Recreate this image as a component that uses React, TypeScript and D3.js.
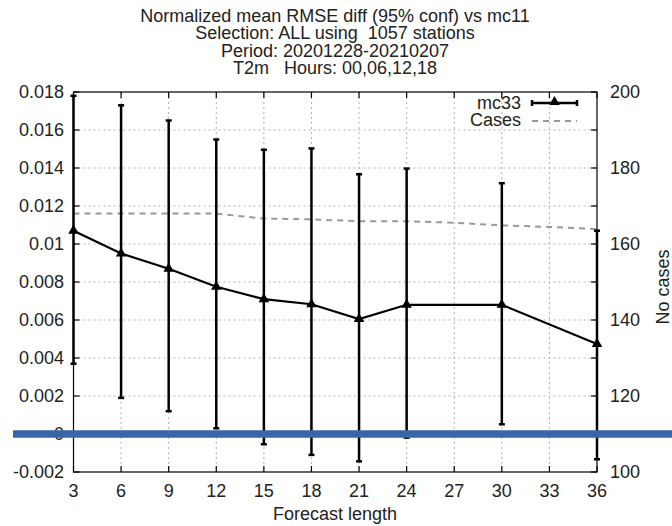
import React from "react";
import * as d3 from "d3";

const titleLines = [
  "Normalized mean RMSE diff (95% conf) vs mc11",
  "Selection: ALL using  1057 stations",
  "Period: 20201228-20210207",
  "T2m   Hours: 00,06,12,18",
];

const leadTimes = [3, 6, 9, 12, 15, 18, 21, 24, 30, 36];
const mc33Mean = [0.0107, 0.0095, 0.0087, 0.00775, 0.0071, 0.00683, 0.00605, 0.0068, 0.0068, 0.00474];
const mc33Lower = [0.0037, 0.0019, 0.0012, 0.0003, -0.00054, -0.0011, -0.00144, -0.00019, 0.00051, -0.00133];
const mc33Upper = [0.0178, 0.0173, 0.0165, 0.0155, 0.01496, 0.01503, 0.01367, 0.01397, 0.0132, 0.0107];

const caseLeads = [3, 6, 9, 12, 15, 18, 21, 24, 27, 30, 33, 36];
const cases = [168, 168, 168, 168, 166.7, 166.5, 166, 166, 165.6, 164.9, 164.5, 163.9];

const xTicks = [3, 6, 9, 12, 15, 18, 21, 24, 27, 30, 33, 36];
const yTicks = [-0.002, 0, 0.002, 0.004, 0.006, 0.008, 0.01, 0.012, 0.014, 0.016, 0.018];
const y2Ticks = [100, 120, 140, 160, 180, 200];

const W = 672;
const H = 526;
const L = 73.5;
const R = 597;
const T = 92;
const B = 472;

const FONT = "'Liberation Sans', Arial, sans-serif";
const TXT = "#222";
const FS = 18;

export default function App() {
  const x = d3.scaleLinear().domain([3, 36]).range([L, R]);
  const y = d3.scaleLinear().domain([-0.002, 0.018]).range([B, T]);
  const y2 = d3.scaleLinear().domain([100, 200]).range([B, T]);

  const meanLine = d3
    .line<number>()
    .x((_, i) => x(leadTimes[i]))
    .y((d) => y(d))(mc33Mean) as string;
  const casesLine = d3
    .line<number>()
    .x((_, i) => x(caseLeads[i]))
    .y((d) => y2(d))(cases) as string;
  const tri = d3.symbol().type(d3.symbolTriangle).size(48)() as string;

  const fmtY = (v: number) => (v === 0 ? "0" : String(+v.toFixed(3)));
  const cap = 3;
  const tick = 6;

  return (
    <svg
      width={W}
      height={H}
      style={{ position: "absolute", left: 0, top: 0, background: "#fff" }}
      fontFamily={FONT}
    >
      <rect x={0} y={0} width={W} height={H} fill="#fff" />
      {/* title */}
      {titleLines.map((t, i) => (
        <text key={t} x={335} y={22 + i * 17.3} textAnchor="middle" fontSize={FS} fill={TXT} style={{ whiteSpace: "pre" }}>
          {t}
        </text>
      ))}
      {/* grid */}
      {yTicks.filter((v) => v > -0.002 && v < 0.018).map((v) => (
        <line key={"gy" + v} x1={L} x2={R} y1={y(v)} y2={y(v)} stroke="#b0b0b0" strokeWidth={1} strokeDasharray="2,3" />
      ))}
      {xTicks.filter((v) => v > 3 && v < 36).map((v) => (
        <line key={"gx" + v} x1={x(v)} x2={x(v)} y1={T} y2={B} stroke="#b0b0b0" strokeWidth={1} strokeDasharray="2,3" />
      ))}
      {/* border */}
      <rect x={L} y={T} width={R - L} height={B - T} fill="none" stroke="#000" strokeWidth={1.2} />
      {/* ticks */}
      {yTicks.map((v) => (
        <g key={"ty" + v}>
          <line x1={L} x2={L + tick} y1={y(v)} y2={y(v)} stroke="#000" strokeWidth={1.2} />
          <line x1={R} x2={R - tick} y1={y(v)} y2={y(v)} stroke="#000" strokeWidth={1.2} />
          <text x={64} y={y(v)} dy="0.35em" textAnchor="end" fontSize={FS} fill={TXT}>
            {fmtY(v)}
          </text>
        </g>
      ))}
      {xTicks.map((v) => (
        <g key={"tx" + v}>
          <line x1={x(v)} x2={x(v)} y1={B} y2={B - tick} stroke="#000" strokeWidth={1.2} />
          <line x1={x(v)} x2={x(v)} y1={T} y2={T + tick} stroke="#000" strokeWidth={1.2} />
          <text x={x(v)} y={497} textAnchor="middle" fontSize={FS} fill={TXT}>
            {v}
          </text>
        </g>
      ))}
      {y2Ticks.map((v) => (
        <text key={"t2" + v} x={610} y={y2(v)} dy="0.35em" textAnchor="start" fontSize={FS} fill={TXT}>
          {v}
        </text>
      ))}
      <text x={335} y={520} textAnchor="middle" fontSize={FS} fill={TXT}>
        Forecast length
      </text>
      <text transform={`translate(669,287) rotate(-90)`} textAnchor="middle" fontSize={FS} fill={TXT}>
        No cases
      </text>
      {/* cases line */}
      <path d={casesLine} fill="none" stroke="#999" strokeWidth={2} strokeDasharray="6,5" />
      {/* error bars */}
      {leadTimes.map((lt, i) => (
        <g key={"eb" + lt} stroke="#000" strokeWidth={2.5}>
          <line x1={x(lt)} x2={x(lt)} y1={y(mc33Lower[i])} y2={y(mc33Upper[i])} />
          <line x1={x(lt) - cap} x2={x(lt) + cap} y1={y(mc33Lower[i])} y2={y(mc33Lower[i])} />
          <line x1={x(lt) - cap} x2={x(lt) + cap} y1={y(mc33Upper[i])} y2={y(mc33Upper[i])} />
        </g>
      ))}
      <path d={meanLine} fill="none" stroke="#000" strokeWidth={2.2} />
      {leadTimes.map((lt, i) => (
        <path key={"pt" + lt} d={tri} transform={`translate(${x(lt)},${y(mc33Mean[i])})`} fill="#000" />
      ))}
      {/* legend */}
      <text x={521} y={103} dy="0.35em" textAnchor="end" fontSize={FS} fill={TXT}>
        mc33
      </text>
      <g stroke="#000" strokeWidth={2.5}>
        <line x1={532} x2={577} y1={103} y2={103} />
        <line x1={532} x2={532} y1={103 - cap} y2={103 + cap} />
        <line x1={577} x2={577} y1={103 - cap} y2={103 + cap} />
      </g>
      <path d={tri} transform={`translate(554.5,102)`} fill="#000" />
      <text x={521} y={120} dy="0.35em" textAnchor="end" fontSize={FS} fill={TXT}>
        Cases
      </text>
      <line x1={532} x2={577} y1={121} y2={121} stroke="#999" strokeWidth={2} strokeDasharray="6,5" />
      {/* zero reference band */}
      <line x1={13} x2={W} y1={y(0)} y2={y(0)} stroke="#3767a7" strokeWidth={7.5} />
    </svg>
  );
}
